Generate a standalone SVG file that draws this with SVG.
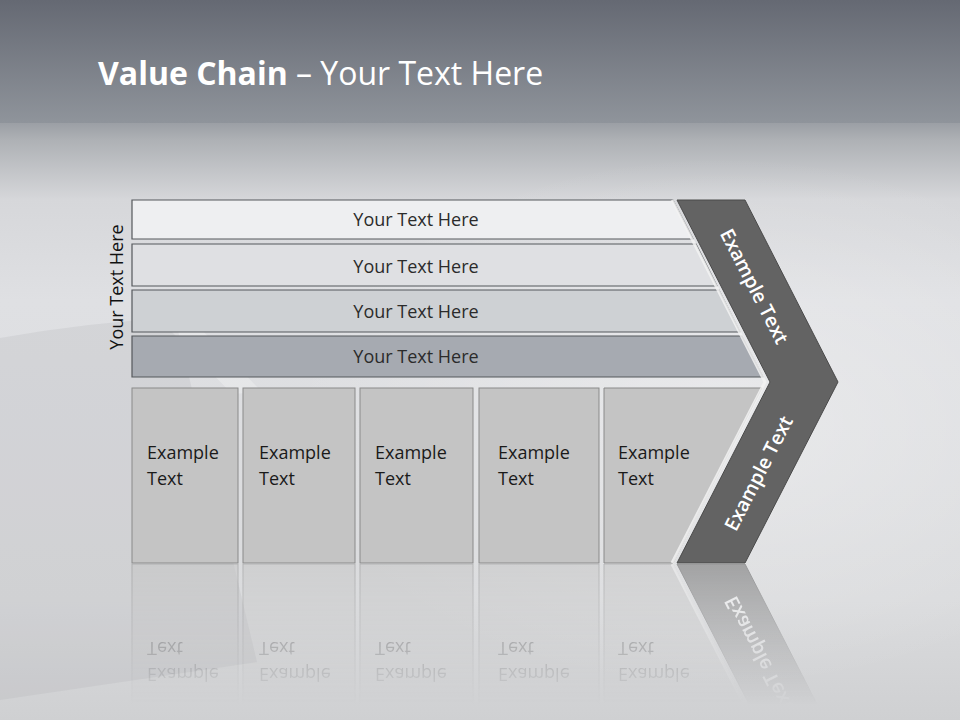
<svg xmlns="http://www.w3.org/2000/svg" xmlns:xlink="http://www.w3.org/1999/xlink" width="960" height="720" viewBox="0 0 960 720">
  <defs>
    <linearGradient id="topBand" x1="0" y1="0" x2="0" y2="1">
      <stop offset="0" stop-color="#656973"/>
      <stop offset="1" stop-color="#8f949b"/>
    </linearGradient>
    <linearGradient id="lowerBg" gradientUnits="userSpaceOnUse" x1="0" y1="122" x2="0" y2="720">
      <stop offset="0" stop-color="#9a9ea4"/>
      <stop offset="0.03" stop-color="#aeb1b5"/>
      <stop offset="0.13" stop-color="#d6d7da"/>
      <stop offset="0.3" stop-color="#dfe0e3"/>
      <stop offset="0.8" stop-color="#dadbdd"/>
      <stop offset="1" stop-color="#cfd0d2"/>
    </linearGradient>
    <radialGradient id="glow" cx="0.75" cy="0.5" r="0.45">
      <stop offset="0" stop-color="#ffffff" stop-opacity="0.35"/>
      <stop offset="1" stop-color="#ffffff" stop-opacity="0"/>
    </radialGradient>
    <linearGradient id="fade" gradientUnits="userSpaceOnUse" x1="0" y1="563" x2="0" y2="705">
      <stop offset="0" stop-color="#ffffff" stop-opacity="0.5"/>
      <stop offset="1" stop-color="#ffffff" stop-opacity="0"/>
    </linearGradient>
    <mask id="reflMask" maskUnits="userSpaceOnUse" x="0" y="563" width="960" height="157">
      <rect x="0" y="564" width="960" height="156" fill="url(#fade)"/>
    </mask>
    <style>
      .bar { stroke: #55585c; stroke-width: 1.2; }
      .box { fill: #c4c4c4; stroke: #8a8a8a; stroke-width: 1; }
      .lbl { font-family: "Open Sans", "DejaVu Sans", sans-serif; font-size: 18px; fill: #2b2b2b; text-anchor: middle; dominant-baseline: central; }
      .btxt { font-family: "Open Sans", "DejaVu Sans", sans-serif; font-size: 18px; fill: #1a1a1a; }
      .ctxt { font-family: "Open Sans", "DejaVu Sans", sans-serif; font-size: 19.5px; font-weight: 600; fill: #ffffff; text-anchor: middle; dominant-baseline: central; }
    </style>
  </defs>

  <!-- background -->
  <rect x="0" y="122" width="960" height="598" fill="url(#lowerBg)"/>
  <rect x="0" y="125" width="960" height="595" fill="url(#glow)"/>
  <rect x="0" y="0" width="960" height="123" fill="url(#topBand)"/>
  <path d="M0,338 Q90,322 175,318 L257,662 L0,700 Z" fill="#a8a9ad" opacity="0.2"/>
  <path d="M170,330 L200,328 L262,392 L232,394 Z" fill="#ffffff" opacity="0.25"/>

  <!-- title -->
  <text x="98" y="85" font-family="'Open Sans', 'DejaVu Sans', sans-serif" font-size="32" fill="#ffffff"><tspan font-weight="700">Value Chain</tspan> – Your Text Here</text>

  <!-- side label -->
  <g id="side-label">
    <text class="lbl" transform="translate(116,287) rotate(-90)" style="fill:#111111">Your Text Here</text>
  </g>

  <!-- rows -->
  <g id="row1">
    <polygon class="bar" points="132,200 673,200 693,239 132,239" fill="#eeeff1"/>
    <text class="lbl" x="416" y="218.5">Your Text Here</text>
  </g>
  <g id="row2">
    <polygon class="bar" points="132,244 696,244 717,286 132,286" fill="#dfe0e3"/>
    <text class="lbl" x="416" y="266">Your Text Here</text>
  </g>
  <g id="row3">
    <polygon class="bar" points="132,290 719,290 740,332 132,332" fill="#ced1d4"/>
    <text class="lbl" x="416" y="311">Your Text Here</text>
  </g>
  <g id="row4">
    <polygon class="bar" points="132,336 742,336 763,377 132,377" fill="#a6aab1"/>
    <text class="lbl" x="416" y="356">Your Text Here</text>
  </g>

  <!-- lower boxes + chevron (also reflected) -->
  <g id="main">
    <g id="boxes">
      <g id="box1">
        <rect class="box" x="132" y="388" width="106" height="175"/>
        <text class="btxt" x="147" y="459">Example<tspan x="147" dy="26">Text</tspan></text>
      </g>
      <g id="box2">
        <rect class="box" x="243" y="388" width="112" height="175"/>
        <text class="btxt" x="259" y="459">Example<tspan x="259" dy="26">Text</tspan></text>
      </g>
      <g id="box3">
        <rect class="box" x="360" y="388" width="113" height="175"/>
        <text class="btxt" x="375" y="459">Example<tspan x="375" dy="26">Text</tspan></text>
      </g>
      <g id="box4">
        <rect class="box" x="479" y="388" width="120" height="175"/>
        <text class="btxt" x="498" y="459">Example<tspan x="498" dy="26">Text</tspan></text>
      </g>
      <g id="box5">
        <polygon class="box" points="604,388 762,388 673,563 604,563"/>
        <text class="btxt" x="618" y="459">Example<tspan x="618" dy="26">Text</tspan></text>
      </g>
    </g>
    <g id="chevron">
      <polyline points="672,200 765,382 672,563" fill="none" stroke="#f2f2f2" stroke-width="3" opacity="0.85"/>
      <polygon points="677,200 745,200 838,382 745,563 677,563 770,382" fill="#636363" stroke="#4a4a4a" stroke-width="1"/>
      <text class="ctxt" transform="translate(755,286) rotate(62.9)">Example Text</text>
      <text class="ctxt" transform="translate(758,473) rotate(-62.9)">Example Text</text>
    </g>
  </g>

  <!-- reflection -->
  <g id="reflection" mask="url(#reflMask)">
    <use xlink:href="#main" href="#main" transform="matrix(1,0,0,-1,0,1127)"/>
  </g>
</svg>
